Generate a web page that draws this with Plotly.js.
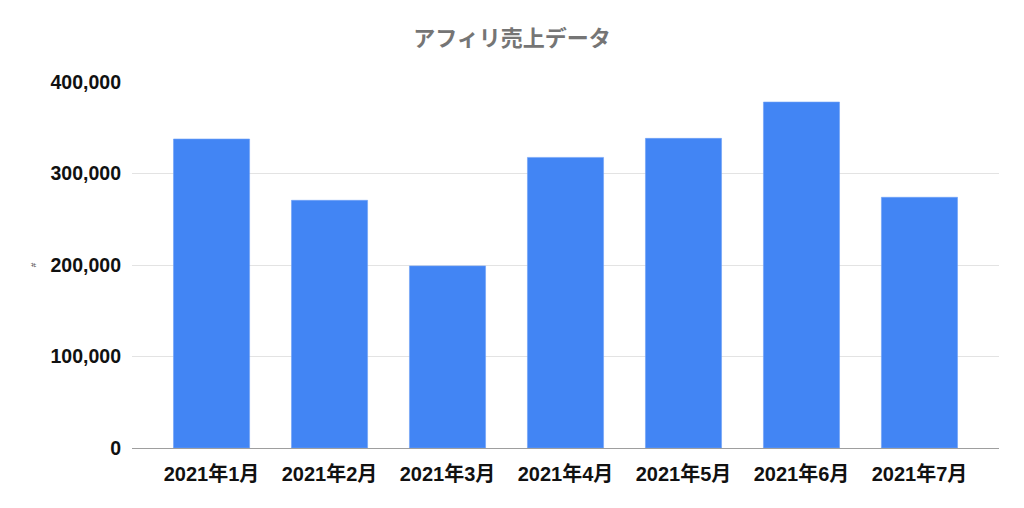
<!DOCTYPE html>
<html>
<head>
<meta charset="utf-8">
<script src="https://cdn.plot.ly/plotly-3.0.1.min.js"></script>
<style>
  html, body { margin: 0; padding: 0; background: #fff; }
  #chart { width: 1024px; height: 508px; }
</style>
</head>
<body>
<div id="chart"></div>
<script>
// アフィリ売上データ
const months = ["2021年1月", "2021年2月", "2021年3月", "2021年4月", "2021年5月", "2021年6月", "2021年7月"]
const sales = [337700, 270700, 199000, 317600, 338400, 378100, 274000]
const yTicks = [0, 100000, 200000, 300000, 400000]
const yTickLabels = ["0", "100,000", "200,000", "300,000", "400,000"]

const fontFamily = "'Liberation Sans', Arial, 'Noto Sans CJK JP', sans-serif"

const data = [{
    type: "bar",
    x: months,
    y: sales,
    marker: {
        color: "#4285f4",
        line: { color: "#6fa1f6", width: 0.6 }
    },
    hoverinfo: "x+y"
}]

const layout = {
    width: 1024,
    height: 508,
    margin: { l: 132, r: 25, t: 82, b: 60 },
    paper_bgcolor: "#ffffff",
    plot_bgcolor: "#ffffff",
    bargap: 0.355,
    showlegend: false,
    title: {
        text: "アフィリ売上データ",
        x: 0.5,
        xanchor: "center",
        y: 0.925,
        yanchor: "middle",
        font: { family: fontFamily, size: 22, color: "#757575", weight: 700 }
    },
    font: { family: fontFamily },
    xaxis: {
        type: "category",
        range: [-0.674, 6.674],
        showgrid: false,
        showline: true,
        linecolor: "#9e9e9e",
        linewidth: 1,
        ticks: "",
        ticklabelstandoff: 8,
        tickfont: { family: fontFamily, size: 20, color: "#111", weight: 700 }
    },
    yaxis: {
        range: [0, 400000],
        tickvals: yTicks,
        ticktext: yTickLabels,
        showgrid: true,
        gridcolor: "#e3e3e3",
        gridwidth: 1,
        zeroline: false,
        showline: false,
        ticks: "",
        ticklabelstandoff: 10,
        tickfont: { family: fontFamily, size: 19.5, color: "#111", weight: 700 },
        title: {
            text: "#",
            standoff: 12,
            font: { family: fontFamily, size: 8, color: "#333" }
        }
    }
}

const config = { staticPlot: true, responsive: false }

Plotly.newPlot("chart", data, layout, config)
</script>
</body>
</html>
